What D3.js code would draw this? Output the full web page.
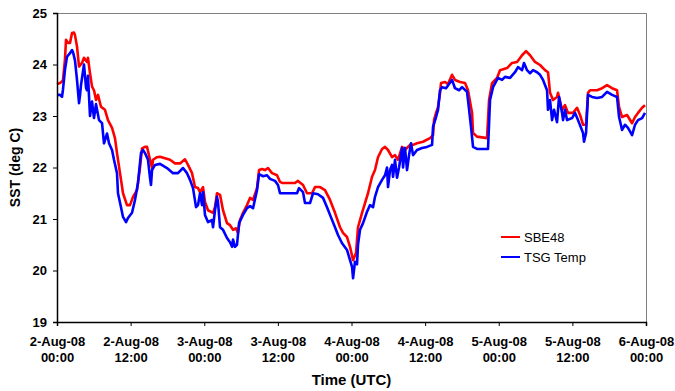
<!DOCTYPE html>
<html>
<head>
<meta charset="utf-8">
<script src="https://cdn.jsdelivr.net/npm/d3@7/dist/d3.min.js"></script>
<style>
  html, body { margin: 0; padding: 0; background: #fff; }
  svg { display: block; font-family: "Liberation Sans", Arial, sans-serif; }
</style>
</head>
<body>
<svg id="chart" width="675" height="391"></svg>
<script>
// ---- data (hours since 2-Aug-08 00:00 UTC, temperature deg C) ----
const startTime = Date.UTC(2008, 7, 2, 0, 0);
const sbeHours = [0.00,0.49,0.82,0.98,1.30,1.47,1.79,2.12,2.45,2.77,2.93,3.26,3.59,4.08,4.40,4.89,5.05,5.38,5.71,6.03,6.36,6.68,7.17,7.82,8.31,8.97,9.45,9.78,10.27,10.76,11.41,11.90,12.39,13.04,13.53,13.86,14.34,14.67,15.16,15.49,15.65,16.30,16.79,17.60,18.42,19.23,20.05,20.86,21.35,22.01,22.49,22.98,23.31,23.80,24.12,24.61,25.43,25.75,26.08,26.57,27.06,27.71,28.20,28.69,29.18,29.50,29.83,30.32,30.97,31.46,31.95,32.60,32.93,33.42,33.90,34.39,35.05,35.86,36.35,36.68,38.79,39.28,40.10,40.75,41.57,42.05,42.87,43.68,44.50,45.31,46.13,46.62,47.27,47.76,48.25,48.74,49.06,49.72,50.20,50.69,51.35,51.83,52.32,52.98,53.46,53.95,54.61,55.09,55.58,56.24,56.72,57.54,58.03,58.68,59.66,60.80,61.29,61.45,61.78,62.10,62.43,62.59,63.24,63.73,64.39,64.87,65.69,66.50,66.99,67.65,67.81,68.46,70.09,70.42,70.91,71.72,72.21,73.35,74.17,74.98,75.80,76.45,77.10,77.91,78.73,79.54,80.03,80.36,80.85,81.50,81.66,82.32,82.80,83.29,84.11,84.76,85.25,85.74,86.23,86.55,86.88,88.02,88.84,89.65,90.47,91.28,91.61,92.10,92.91,93.73,94.21,94.70,95.36,95.84];
const sbeTemp = [23.62,23.64,23.67,23.70,24.10,24.48,24.42,24.42,24.61,24.62,24.57,24.35,23.96,24.03,24.13,24.05,24.13,23.83,23.57,23.50,23.31,23.41,23.18,23.12,22.92,22.77,22.57,22.28,21.89,21.50,21.27,21.27,21.43,21.56,22.00,22.37,22.40,22.40,22.15,21.99,22.15,22.20,22.21,22.18,22.15,22.08,22.08,22.16,22.05,21.89,21.62,21.60,21.52,21.62,21.33,21.17,21.12,21.23,21.50,21.47,21.17,20.92,20.88,20.79,20.82,20.73,20.98,21.12,21.27,21.41,21.37,21.60,21.95,21.97,21.95,21.99,21.89,21.85,21.72,21.70,21.70,21.74,21.66,21.50,21.50,21.62,21.62,21.56,21.37,21.12,20.84,20.73,20.65,20.46,20.20,20.34,20.84,21.12,21.31,21.50,21.82,21.95,22.20,22.36,22.40,22.34,22.20,22.24,22.15,22.40,22.34,22.44,22.44,22.47,22.50,22.57,22.63,22.92,23.06,23.17,23.45,23.64,23.66,23.62,23.80,23.70,23.66,23.64,23.50,23.06,22.67,22.60,22.57,23.31,23.64,23.74,23.89,23.93,24.03,24.05,24.18,24.26,24.18,24.05,23.99,23.89,23.85,23.45,23.31,23.37,23.45,23.12,23.21,23.06,23.06,23.16,23.02,22.83,22.83,23.45,23.50,23.50,23.54,23.60,23.54,23.50,23.17,22.98,23.02,22.86,22.98,23.06,23.16,23.21];
const tsgHours = [0.00,0.49,0.82,0.98,1.30,1.63,2.12,2.45,2.61,2.93,3.26,3.59,3.75,3.91,4.40,4.73,4.89,5.05,5.38,5.71,6.03,6.36,6.85,7.34,7.66,8.15,8.48,8.97,9.29,9.78,9.94,10.43,10.76,11.25,11.57,12.23,12.71,13.20,13.69,14.02,14.34,14.83,15.16,15.32,15.49,15.97,16.79,17.93,18.91,19.72,20.54,21.19,21.68,22.17,22.66,22.98,23.31,23.64,23.80,24.12,24.61,25.27,25.43,25.75,26.08,26.24,26.57,27.06,27.71,28.20,28.53,28.69,29.01,29.34,29.67,30.32,30.97,31.46,31.95,32.60,32.93,33.58,34.23,34.72,35.53,36.02,36.35,39.12,39.45,40.10,40.42,41.24,41.73,42.54,43.36,44.01,44.50,45.31,45.80,46.46,47.27,47.76,48.09,48.25,48.57,48.90,49.06,49.39,49.88,50.53,51.02,51.51,51.83,52.32,52.98,53.46,53.79,53.95,54.28,54.61,54.77,55.09,55.42,55.75,56.24,56.40,56.72,57.05,57.38,57.70,58.03,58.68,59.50,60.31,61.13,61.29,61.78,62.10,62.43,62.76,63.41,63.90,64.39,64.87,65.53,66.02,66.83,66.99,67.48,67.81,68.46,70.25,70.58,71.07,71.88,72.54,73.02,73.84,74.65,75.14,75.80,76.12,76.61,77.10,77.59,78.24,78.73,79.22,79.87,80.03,80.36,80.69,81.01,81.50,81.83,82.32,82.48,82.80,83.13,83.95,84.43,84.92,85.41,85.74,85.90,86.23,86.55,87.21,88.02,88.84,89.65,90.47,91.28,91.61,92.10,92.58,93.07,93.73,94.21,94.70,95.36,95.84];
const tsgTemp = [23.41,23.41,23.37,23.52,23.90,24.15,24.22,24.28,24.24,24.08,23.70,23.25,23.40,23.60,24.00,23.55,23.50,23.78,23.00,23.28,22.96,23.23,22.92,22.86,22.47,22.66,22.47,22.34,22.15,21.89,21.50,21.23,21.04,20.94,21.02,21.12,21.37,21.70,22.28,22.34,22.28,22.15,21.80,21.66,21.95,22.05,22.07,21.99,21.89,21.89,21.99,21.89,21.76,21.60,21.23,21.27,21.50,21.27,21.52,21.08,20.94,20.98,20.84,21.17,21.43,21.33,20.84,20.79,20.63,20.55,20.46,20.60,20.46,20.50,20.92,21.08,21.21,21.25,21.21,21.56,21.87,21.83,21.85,21.78,21.74,21.66,21.50,21.50,21.60,21.52,21.31,21.31,21.50,21.48,21.41,21.23,21.08,20.84,20.69,20.53,20.40,20.20,20.07,19.85,20.17,20.12,20.50,20.79,20.92,21.14,21.27,21.23,21.43,21.62,21.76,21.85,22.00,21.62,21.95,22.05,21.82,22.15,21.80,22.00,22.38,22.00,22.38,21.95,22.24,22.47,22.24,22.34,22.38,22.40,22.44,22.79,22.98,23.12,23.50,23.56,23.54,23.62,23.70,23.54,23.50,23.56,23.47,23.31,22.79,22.40,22.36,22.36,23.31,23.56,23.74,23.70,23.76,23.74,23.85,23.95,23.89,24.03,23.89,23.83,23.89,23.85,23.80,23.70,23.50,23.12,23.31,22.92,23.12,22.88,23.37,23.06,22.92,23.12,22.92,22.96,23.06,22.92,22.77,22.67,22.50,22.67,23.41,23.37,23.35,23.37,23.47,23.41,23.37,22.98,22.73,22.83,22.77,22.63,22.83,22.92,22.96,23.06];
const seriesNames = ["SBE48", "TSG Temp"];
const seriesColors = ["#ff0000", "#0000ff"];
const yTicks = [19, 20, 21, 22, 23, 24, 25];
const xTickHours = [0, 12, 24, 36, 48, 60, 72, 84, 96];

// ---- layout ----
const W = 675, H = 391;
const m = { left: 57, top: 13, right: 29, bottom: 69 };
const iw = W - m.left - m.right, ih = H - m.top - m.bottom;
const svg = d3.select("#chart");
const g = svg.append("g").attr("transform", `translate(${m.left},${m.top})`);

const toDate = h => new Date(startTime + h * 3600000);
const x = d3.scaleUtc().domain([toDate(0), toDate(96)]).range([0, iw]);
const y = d3.scaleLinear().domain([19, 25]).range([ih, 0]);

// frame (top / right)
g.append("path")
  .attr("d", `M0,0.5H${iw + 0.5}V${ih}`)
  .attr("fill", "none").attr("stroke", "#7f7f7f").attr("stroke-width", 1);

// series
const line = d3.line().x(d => x(toDate(d[0]))).y(d => y(d[1]));
const sbe = sbeHours.map((h, i) => [h, sbeTemp[i]]);
const tsg = tsgHours.map((h, i) => [h, tsgTemp[i]]);
g.append("path").datum(sbe).attr("d", line)
  .attr("fill", "none").attr("stroke", seriesColors[0]).attr("stroke-width", 2.6)
  .attr("stroke-linejoin", "round");
g.append("path").datum(tsg).attr("d", line)
  .attr("fill", "none").attr("stroke", seriesColors[1]).attr("stroke-width", 2.6)
  .attr("stroke-linejoin", "round");

// y axis
const yAxis = g.append("g").call(d3.axisLeft(y).tickValues(yTicks).tickSize(4).tickPadding(6).tickFormat(d3.format("d")));
yAxis.select(".domain").attr("stroke", "#000").attr("stroke-width", 1.5);
yAxis.selectAll(".tick line").attr("stroke", "#000");
yAxis.selectAll(".tick text").attr("font-size", 13).attr("font-weight", "bold")
  .attr("font-family", "'Liberation Sans', Arial, sans-serif").attr("fill", "#000");

// x axis
const fmtDay = d3.utcFormat("%-d-%b-%y");
const fmtTime = d3.utcFormat("%H:%M");
const xAxis = g.append("g").attr("transform", `translate(0,${ih})`)
  .call(d3.axisBottom(x).tickValues(xTickHours.map(toDate)).tickSize(4).tickFormat(""));
xAxis.select(".domain").attr("stroke", "#000").attr("stroke-width", 1.5);
xAxis.selectAll(".tick line").attr("stroke", "#000");
xAxis.selectAll(".tick").each(function(d) {
  const t = d3.select(this).append("text")
    .attr("text-anchor", "middle").attr("fill", "#000")
    .attr("font-size", 13).attr("font-weight", "bold")
    .attr("font-family", "'Liberation Sans', Arial, sans-serif");
  t.append("tspan").attr("x", 0).attr("y", 24).text(fmtDay(d));
  t.append("tspan").attr("x", 0).attr("y", 40).text(fmtTime(d));
});

// axis titles
svg.append("text")
  .attr("x", m.left + iw / 2).attr("y", 385)
  .attr("text-anchor", "middle").attr("font-size", 15).attr("font-weight", "bold")
  .text("Time (UTC)");
svg.append("text")
  .attr("transform", `translate(20,${m.top + ih / 2}) rotate(-90)`)
  .attr("text-anchor", "middle").attr("font-size", 14).attr("font-weight", "bold")
  .text("SST (deg C)");

// legend
const leg = svg.append("g").attr("transform", "translate(501,237)");
seriesNames.forEach((name, i) => {
  const row = leg.append("g").attr("transform", `translate(0,${i * 20})`);
  row.append("line").attr("x1", 0).attr("x2", 19).attr("y1", 0).attr("y2", 0)
    .attr("stroke", seriesColors[i]).attr("stroke-width", 2);
  row.append("text").attr("x", 23).attr("y", 5).attr("font-size", 13).attr("fill", "#000").text(name);
});
</script>
</body>
</html>
